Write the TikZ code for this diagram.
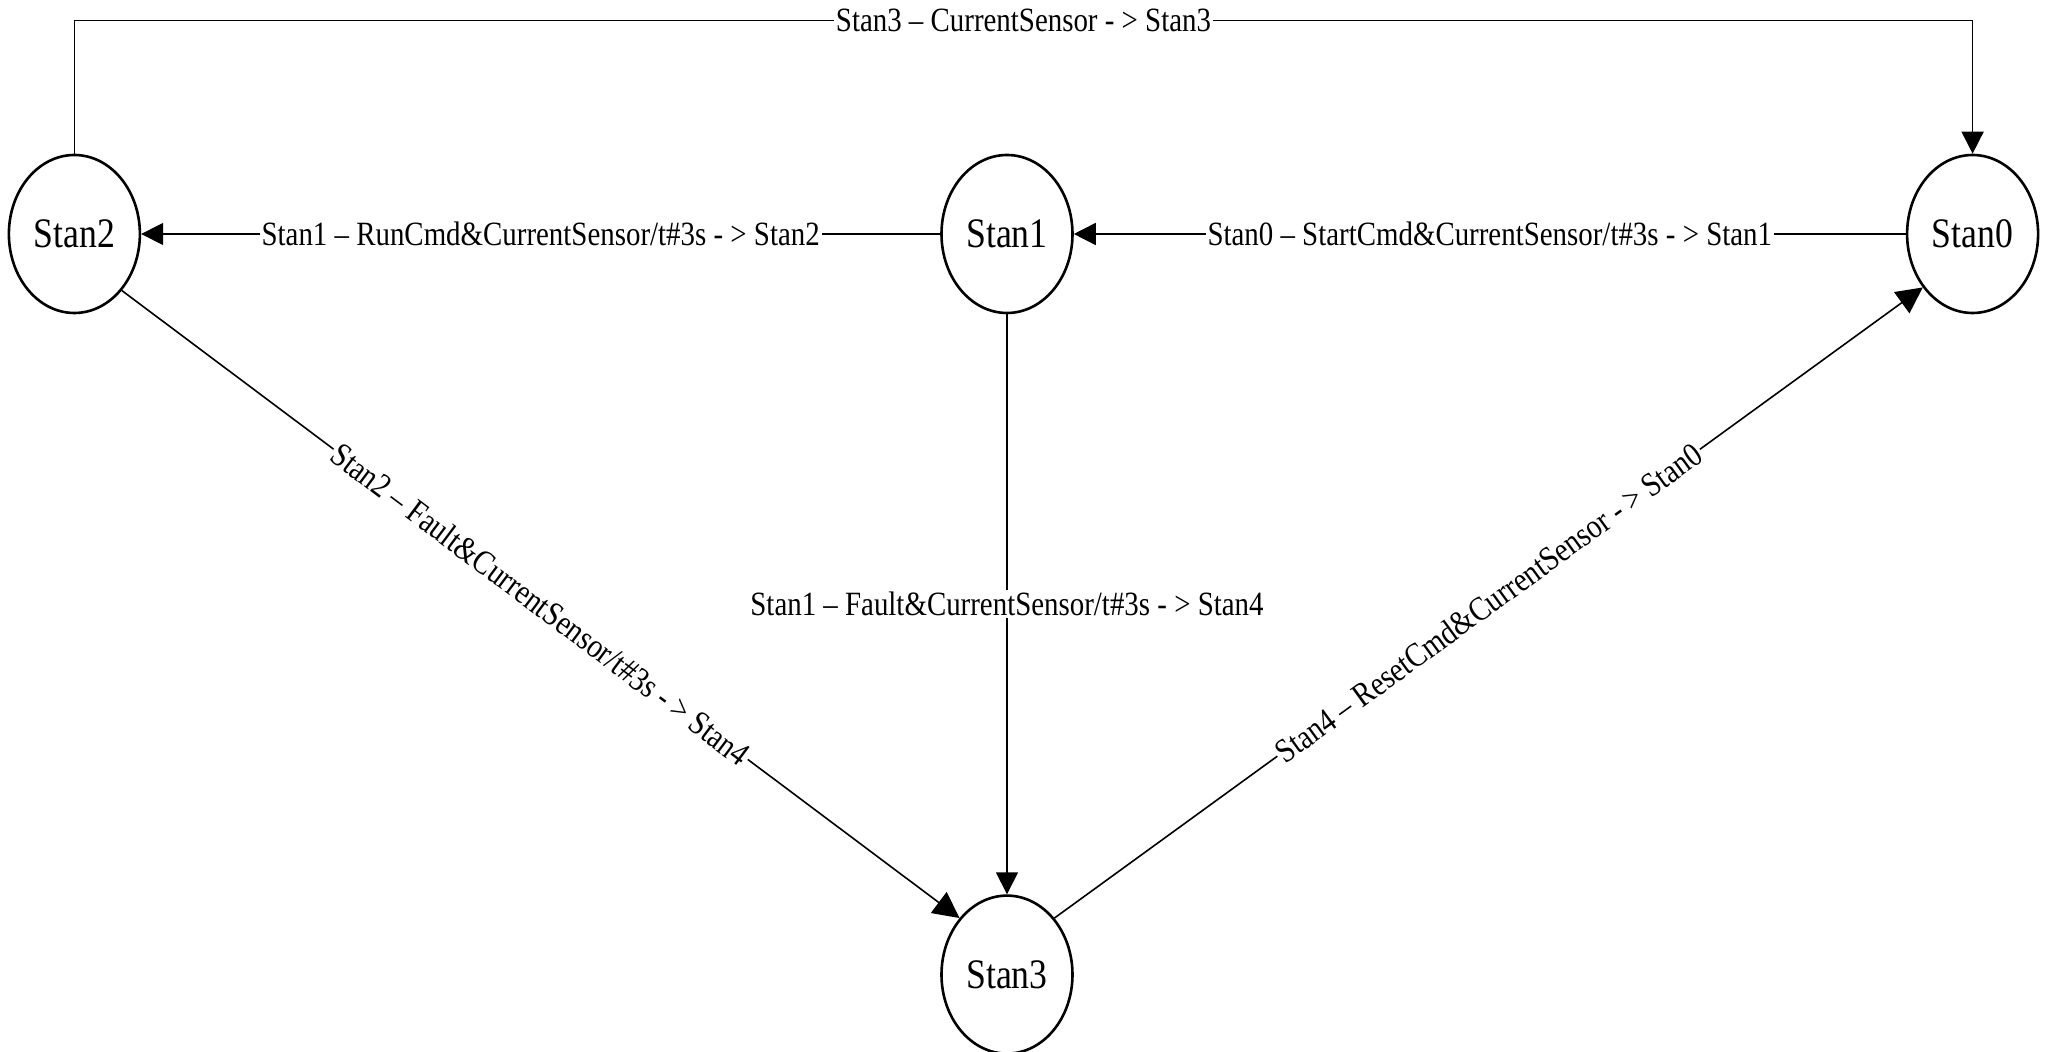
\documentclass[tikz,border=0pt]{standalone}
\usepackage{fontspec}
\setmainfont{Liberation Serif}[FakeStretch=0.85]
\usepackage{tikz}
\usetikzlibrary{shapes,arrows.meta,positioning}
\tikzstyle{state} = [ellipse, draw=black, line width=1.3pt, fill=white, inner sep=0pt, minimum width=65.5pt, minimum height=79pt, text centered, font=\fontsize{21}{25}\selectfont]
\tikzstyle{lbl} = [fill=white, inner sep=1pt, anchor=center, font=\fontsize{17}{20}\selectfont]
\tikzstyle{tedge}  = [draw, line width=0.8pt, >={Triangle[length=11pt,width=11pt]}, ->]
\tikzstyle{dedge}  = [tedge, >={Triangle[length=13pt,width=13pt]}]

\begin{document}
\begin{tikzpicture}

\useasboundingbox (-503.5pt,117pt) rectangle (521pt,-409pt);

% states =============================
\node[state] (s1) at (0,0) {Stan1};
\node[state, left=399.5pt of s1] (s2) {Stan2};
\node[state, right=416pt of s1] (s0) {Stan0};
\node[state, below=290pt of s1] (s3) {Stan3};
\coordinate[above=66.5pt of s2.north] (tl);

% edges
\draw[tedge] (s2.north) -- (tl) -| node[lbl, pos=0.25] {Stan3 -- CurrentSensor - > Stan3} (s0.north);
\path[tedge] (s1) edge node[lbl, midway] {Stan1 -- RunCmd\&CurrentSensor/t\#3s - > Stan2} (s2);
\path[tedge] (s0) edge node[lbl, midway] {Stan0 -- StartCmd\&CurrentSensor/t\#3s - > Stan1} (s1);
\path[tedge] (s1) edge node[lbl, midway] {Stan1 -- Fault\&CurrentSensor/t\#3s - > Stan4} (s3);
\draw[dedge] (s2.-50) -- node[lbl, midway, sloped] {Stan2 -- Fault\&CurrentSensor/t\#3s - > Stan4} (s3.130);
\draw[dedge] (s3.50) -- node[lbl, midway, sloped] {Stan4 -- ResetCmd\&CurrentSensor - > Stan0} (s0.-133);

\end{tikzpicture}
\end{document}
